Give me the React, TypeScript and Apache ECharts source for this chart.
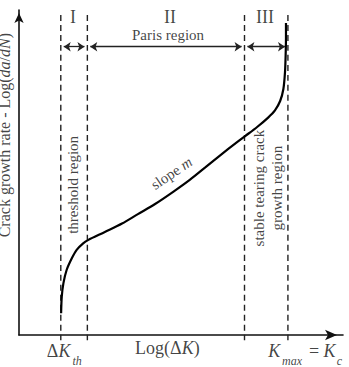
import React, { useEffect, useRef } from 'react';
import * as echarts from 'echarts';

// Crack growth curve (x: Log(ΔK), y: Log(da/dN), arbitrary 0–100 units)
const curveX = [13.0, 13.2, 13.7, 14.7, 16.3, 17.8, 19.8, 21.3, 26.5, 31.8, 36.7, 42.0, 47.8, 52.8, 57.4, 62.0, 67.0, 69.8, 73.5, 76.9, 79.0, 80.6, 81.6, 82.1, 82.3, 82.4, 82.4];
const curveY = [6.7, 11.8, 15.9, 20.0, 23.6, 26.2, 28.2, 29.2, 31.7, 34.3, 37.2, 40.3, 44.2, 47.8, 51.5, 55.2, 59.1, 61.2, 64.0, 66.9, 69.1, 72.0, 75.7, 80.9, 86.2, 91.4, 96.0];
// Region boundaries (dashed lines): ΔK_th, end of threshold, end of Paris, K_max = K_c
const boundaries = [12.9, 21.1, 69.6, 83.0];
const regionNames = ['I', 'II', 'III'];
const regionDescriptions = ['threshold region', 'Paris region', 'stable tearing crack\ngrowth region'];

const FONT = "'Liberation Serif', 'Times New Roman', 'DejaVu Serif', serif";
const INK = '#111';

const base = { fontFamily: FONT, color: INK };
const rich = {
  r18: { ...base, fontSize: 18 },
  i18: { ...base, fontSize: 18, fontStyle: 'italic' },
  i12: { ...base, fontSize: 12, fontStyle: 'italic' },
  r15: { ...base, fontSize: 15 },
  i15: { ...base, fontSize: 15, fontStyle: 'italic' },
  r16: { ...base, fontSize: 16 },
  i16: { ...base, fontSize: 16, fontStyle: 'italic' },
};

function note(value: number[], formatter: string, label: any = {}) {
  return {
    value,
    label: {
      show: true,
      position: 'inside',
      formatter,
      rich,
      fontFamily: FONT,
      color: INK,
      fontSize: 15,
      align: 'center',
      verticalAlign: 'middle',
      ...label,
    },
  };
}

const curveData = curveX.map((x, i) => [x, curveY[i]]);
const arrowY = 88.7;
const arrowSegments = regionNames.map((_, i) => [
  { coord: [boundaries[i] + 0.9, arrowY] },
  { coord: [boundaries[i + 1] - 0.9, arrowY] },
]);

const notes = [
  note([-4.6, 61.5], '{r16|Crack growth rate - Log(}{i16|da}{r16|/}{i16|dN}{r16|)}', { rotate: 90 }),
  note([8.6, -4.9], '{r18|Δ}{i18|K}', { align: 'left' }),
  note([16.5, -8.0], '{i12|th}', { align: 'left' }),
  note([45.8, -4.0], '{r18|Log(Δ}{i18|K}{r18|)}'),
  note([76.9, -4.9], '{i18|K}', { align: 'left' }),
  note([81.2, -8.0], '{i12|max}', { align: 'left' }),
  note([89.5, -4.9], '{r18|= }{i18|K}', { align: 'left' }),
  note([98.1, -8.0], '{i12|c}', { align: 'left' }),
  note([16.7, 97.7], `{r18|${regionNames[0]}}`, { lineHeight: 16 }),
  note([46.6, 97.7], `{r18|${regionNames[1]}}`, { lineHeight: 16 }),
  note([75.9, 97.7], `{r18|${regionNames[2]}}`, { lineHeight: 16 }),
  note([46.0, 92.4], regionDescriptions[1], { fontSize: 15, lineHeight: 15 }),
  note([16.8, 46.2], regionDescriptions[0], { rotate: 90, fontSize: 15 }),
  note([47.1, 49.8], '{r15|slope }{i15|m}', { rotate: 34 }),
  note([77.0, 45.2], regionDescriptions[2], { rotate: 90, fontSize: 15, lineHeight: 18 }),
];

const option: any = {
  animation: false,
  backgroundColor: '#fff',
  textStyle: { fontFamily: FONT },
  grid: { left: 19, right: 6, top: 10, bottom: 32, containLabel: false },
  xAxis: {
    type: 'value',
    min: 0,
    max: 100,
    axisLine: {
      show: true,
      symbol: ['none', 'arrow'],
      symbolSize: [8, 12],
      symbolOffset: [0, -6],
      lineStyle: { color: INK, width: 1.6 },
    },
    axisTick: { show: false },
    axisLabel: { show: false },
    splitLine: { show: false },
  },
  yAxis: {
    type: 'value',
    min: 0,
    max: 100,
    axisLine: {
      show: true,
      symbol: ['none', 'arrow'],
      symbolSize: [7, 10],
      symbolOffset: [0, -3],
      lineStyle: { color: INK, width: 1.6 },
    },
    axisTick: { show: false },
    axisLabel: { show: false },
    splitLine: { show: false },
  },
  series: [
    ...boundaries.map((b) => ({
      type: 'line',
      data: [[b, 98.5], [b, -1.6]],
      symbol: 'none',
      clip: false,
      silent: true,
      z: 1,
      lineStyle: { type: [6, 4], width: 1.4, color: '#222' },
    })),
    {
      type: 'line',
      name: 'crack growth',
      data: curveData,
      symbol: 'none',
      smooth: 0.3,
      clip: false,
      silent: true,
      z: 3,
      lineStyle: { color: '#000', width: 2.2 },
      markLine: {
        silent: true,
        symbol: ['arrow', 'arrow'],
        symbolSize: 7,
        label: { show: false },
        lineStyle: { type: 'solid', color: '#222', width: 1.3 },
        data: arrowSegments,
      },
    },
    {
      type: 'scatter',
      name: 'notes',
      data: notes,
      symbolSize: 0,
      clip: false,
      silent: true,
      z: 5,
    },
  ],
};

export default function App() {
  const ref = useRef<HTMLDivElement>(null);
  useEffect(() => {
    const chart = echarts.init(ref.current!, null, { renderer: 'svg' });
    chart.setOption(option);
    return () => chart.dispose();
  }, []);
  return (
    <div
      ref={ref}
      style={{ position: 'fixed', left: 0, top: 0, width: 349, height: 367 }}
    />
  );
}
